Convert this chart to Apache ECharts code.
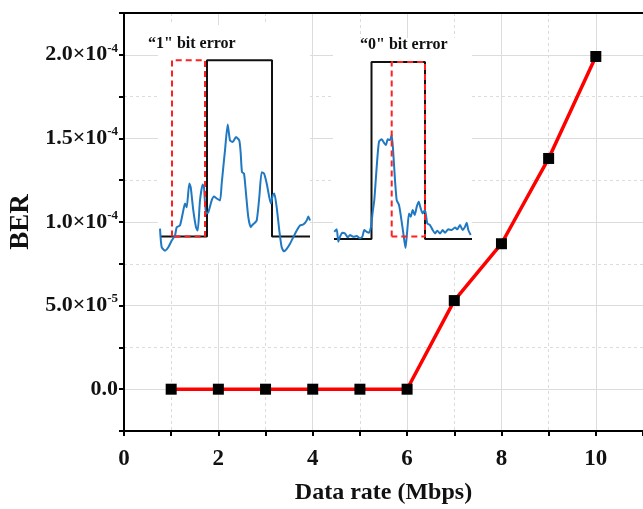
<!DOCTYPE html>
<html>
<head>
<meta charset="utf-8">
<script src="https://cdn.jsdelivr.net/npm/echarts@6/dist/echarts.min.js"></script>
<style>html,body{margin:0;padding:0;background:#fff}#c{width:643px;height:509px}</style>
</head>
<body>
<div id="c"></div>
<script>
// Main data
const dataRate = [1, 2, 3, 4, 5, 6, 7, 8, 9, 10];
const ber = [0, 0, 0, 0, 0, 0, 5.3e-5, 8.7e-5, 1.38e-4, 1.99e-4];
const xTicks = [0, 2, 4, 6, 8, 10];
const yTickLabels = ['0.0', '5.0×10^-5', '1.0×10^-4', '1.5×10^-4', '2.0×10^-4'];

// Inset 1: "1" bit error  (time, normalized amplitude)
const inset1Title = '“1" bit error';
const inset1Sent = [[0,0],[47,0],[47,1],[112,1],[112,0],[150,0]];
const inset1Wrong = [[12,0],[12,1],[45,1],[45,0],[12,0]];
const inset1Rx = [[0,0.045],[1.7,-0.061],[5,-0.08],[8.3,-0.061],[11.7,-0.023],[15,0.006],[16.7,0.053],[20,0.063],[23.3,0.148],[25,0.188],[26.7,0.166],[29.3,0.301],[30.7,0.28],[33.3,0.148],[36,0.053],[37.7,0.034],[40,0.205],[42.7,0.295],[44,0.28],[46,0.131],[48.3,0.138],[51.7,0.205],[54,0.227],[56.7,0.216],[60,0.205],[61.7,0.301],[63.3,0.394],[65,0.489],[67.7,0.636],[70,0.545],[72.7,0.536],[76,0.564],[79.3,0.545],[80.7,0.472],[82,0.365],[84,0.358],[86,0.244],[88.3,0.11],[90.7,0.053],[92,0.063],[94,0.074],[96.7,0.091],[99.3,0.223],[101.7,0.365],[104,0.358],[106.7,0.301],[109.3,0.223],[111,0.188],[112.7,0.233],[114.3,0.244],[116.7,0.166],[119.3,0.034],[121.7,-0.061],[124,-0.084],[126.7,-0.07],[130,-0.041],[133.3,-0.004],[136.7,0.034],[140,0.063],[143.3,0.068],[146.7,0.091],[148.3,0.114],[150,0.091]];

// Inset 2: "0" bit error
const inset2Title = '“0" bit error';
const inset2Sent = [[0,0],[37.5,0],[37.5,1],[91,1],[91,0],[138,0]];
const inset2Wrong = [[57.7,0.015],[57.7,1],[91,1],[91,0.015],[57.7,0.015]];
const inset2Rx = [[0.3,0.041],[2.7,0.055],[4.3,-0.015],[6,0.013],[8.3,0.036],[11,0.032],[13.7,0.01],[16,0.023],[19.3,0.013],[22.7,0.017],[26,0.004],[28.3,0.013],[30.3,0.051],[32.7,0.041],[35,0.036],[37,0.069],[38.7,0.154],[40.3,0.22],[42.7,0.408],[45,0.55],[47.7,0.563],[50.3,0.541],[52,0.531],[53.7,0.563],[56,0.559],[57.7,0.588],[59.3,0.484],[61,0.333],[62.7,0.22],[65,0.192],[67,0.124],[69.3,0.034],[71.5,-0.051],[73.3,0.051],[75,0.145],[76.7,0.126],[78.7,0.164],[80.7,0.136],[82.7,0.182],[84.7,0.211],[86.7,0.173],[88.7,0.145],[91,0.164],[93.3,0.089],[96,0.079],[98.7,0.051],[101,0.032],[103.3,0.047],[106,0.032],[108.7,0.051],[111,0.036],[114.3,0.055],[117.7,0.051],[121,0.066],[123.3,0.055],[126,0.079],[128.7,0.051],[131,0.069],[132.7,0.092],[134.3,0.051],[136.7,0.023]];

const FONT = '"Liberation Serif", "Times New Roman", serif';
const chart = echarts.init(document.getElementById('c'), null, {renderer: 'canvas'});

function yFmt(v, i) {
  if (i % 2 !== 1) return '';
  const s = yTickLabels[(i - 1) / 2];
  if (s === undefined) return '';
  const p = s.split('^');
  return p.length > 1 ? '{b|' + p[0] + '}{s|' + p[1] + '}' : '{b|' + p[0] + '}';
}

const gridLine = '#dcdcdc';
const option = {
  backgroundColor: '#fff',
  animation: false,
  title: [
    {text: inset1Title, left: 148, top: 36, padding: 0, z: 20,
     textStyle: {fontFamily: FONT, fontWeight: 'bold', fontSize: 16, color: '#111'}},
    {text: inset2Title, left: 360, top: 37, padding: 0, z: 20,
     textStyle: {fontFamily: FONT, fontWeight: 'bold', fontSize: 16, color: '#111'}}
  ],
  grid: [
    {left: 124, right: 0, top: 13, bottom: 78, containLabel: false, outerBoundsMode: 'none'},
    {left: 158, top: 25, width: 152, height: 238, show: true, backgroundColor: '#fff', borderWidth: 0, z: 5, outerBoundsMode: 'none'},
    {left: 333, top: 38, width: 139, height: 225, show: true, backgroundColor: '#fff', borderWidth: 0, z: 5, outerBoundsMode: 'none'}
  ],
  xAxis: [
    {type: 'value', gridIndex: 0, min: 0, max: 11, interval: 1,
     name: 'Data rate (Mbps)', nameLocation: 'middle', nameGap: 50,
     nameTextStyle: {fontFamily: FONT, fontWeight: 'bold', fontSize: 24, color: '#111'},
     axisLine: {show: true, onZero: false, lineStyle: {color: '#000', width: 2}},
     axisTick: {show: true, length: 5, lineStyle: {color: '#000', width: 2}},
     axisLabel: {margin: 17, fontFamily: FONT, fontWeight: 'bold', fontSize: 23, color: '#111',
       formatter: function (v) { return xTicks.indexOf(v) >= 0 ? String(v) : ''; }},
     splitLine: {show: true, lineStyle: {color: gridLine, type: [3, 3], width: 1}}},
    {type: 'value', gridIndex: 0, min: 0, max: 11, interval: 1,
     axisLine: {show: false}, axisTick: {show: false}, axisLabel: {show: false},
     splitLine: {show: true, lineStyle: {color: [gridLine, 'rgba(0,0,0,0)'], width: 1}}},
    {type: 'value', gridIndex: 0, min: 0, max: 11, position: 'top',
     axisLine: {show: true, onZero: false, lineStyle: {color: '#000', width: 2}},
     axisTick: {show: false}, axisLabel: {show: false}, splitLine: {show: false}},
    {type: 'value', gridIndex: 1, min: -2, max: 150, show: false},
    {type: 'value', gridIndex: 2, min: -1, max: 138, show: false}
  ],
  yAxis: [
    {type: 'value', gridIndex: 0, min: -2.5e-5, max: 2.25e-4, interval: 2.5e-5,
     name: 'BER', nameLocation: 'middle', nameGap: 88, nameRotate: 90,
     nameTextStyle: {fontFamily: FONT, fontWeight: 'bold', fontSize: 27, color: '#111'},
     axisLine: {show: true, onZero: false, lineStyle: {color: '#000', width: 2}},
     axisTick: {show: true, length: 5, lineStyle: {color: '#000', width: 2}},
     axisLabel: {margin: 6, formatter: yFmt,
       rich: {
         b: {fontFamily: FONT, fontWeight: 'bold', fontSize: 22, color: '#111'},
         s: {fontFamily: FONT, fontWeight: 'bold', fontSize: 13, color: '#111', padding: [0, 0, 13, 0]}
       }},
     splitLine: {show: true, lineStyle: {color: gridLine, type: [3, 3], width: 1}}},
    {type: 'value', gridIndex: 0, min: -2.5e-5, max: 2.25e-4, interval: 2.5e-5,
     axisLine: {show: false}, axisTick: {show: false}, axisLabel: {show: false},
     splitLine: {show: true, lineStyle: {color: ['rgba(0,0,0,0)', gridLine], width: 1}}},
    {type: 'value', gridIndex: 1, min: -0.15, max: 1.2, show: false},
    {type: 'value', gridIndex: 2, min: -0.135, max: 1.135, show: false}
  ],
  series: [
    {type: 'line', xAxisIndex: 0, yAxisIndex: 0, z: 3,
     data: dataRate.map((x, i) => [x, ber[i]]),
     symbol: 'rect', symbolSize: 11, itemStyle: {color: '#000'},
     lineStyle: {color: '#ff0000', width: 3.5}},
    {type: 'line', xAxisIndex: 3, yAxisIndex: 2, z: 6, data: inset1Sent, symbol: 'none',
     lineStyle: {color: '#111', width: 2}},
    {type: 'line', xAxisIndex: 3, yAxisIndex: 2, z: 7, data: inset1Rx, symbol: 'none', smooth: 0.2,
     lineStyle: {color: '#1f78c1', width: 2}},
    {type: 'line', xAxisIndex: 3, yAxisIndex: 2, z: 8, data: inset1Wrong, symbol: 'none',
     lineStyle: {color: '#ff2020', width: 2, type: [6, 4]}},
    {type: 'line', xAxisIndex: 4, yAxisIndex: 3, z: 6, data: inset2Sent, symbol: 'none',
     lineStyle: {color: '#111', width: 2}},
    {type: 'line', xAxisIndex: 4, yAxisIndex: 3, z: 7, data: inset2Rx, symbol: 'none', smooth: 0.2,
     lineStyle: {color: '#1f78c1', width: 2}},
    {type: 'line', xAxisIndex: 4, yAxisIndex: 3, z: 8, data: inset2Wrong, symbol: 'none',
     lineStyle: {color: '#ff2020', width: 2, type: [6, 4]}}
  ]
};
chart.setOption(option);
</script>
</body>
</html>
